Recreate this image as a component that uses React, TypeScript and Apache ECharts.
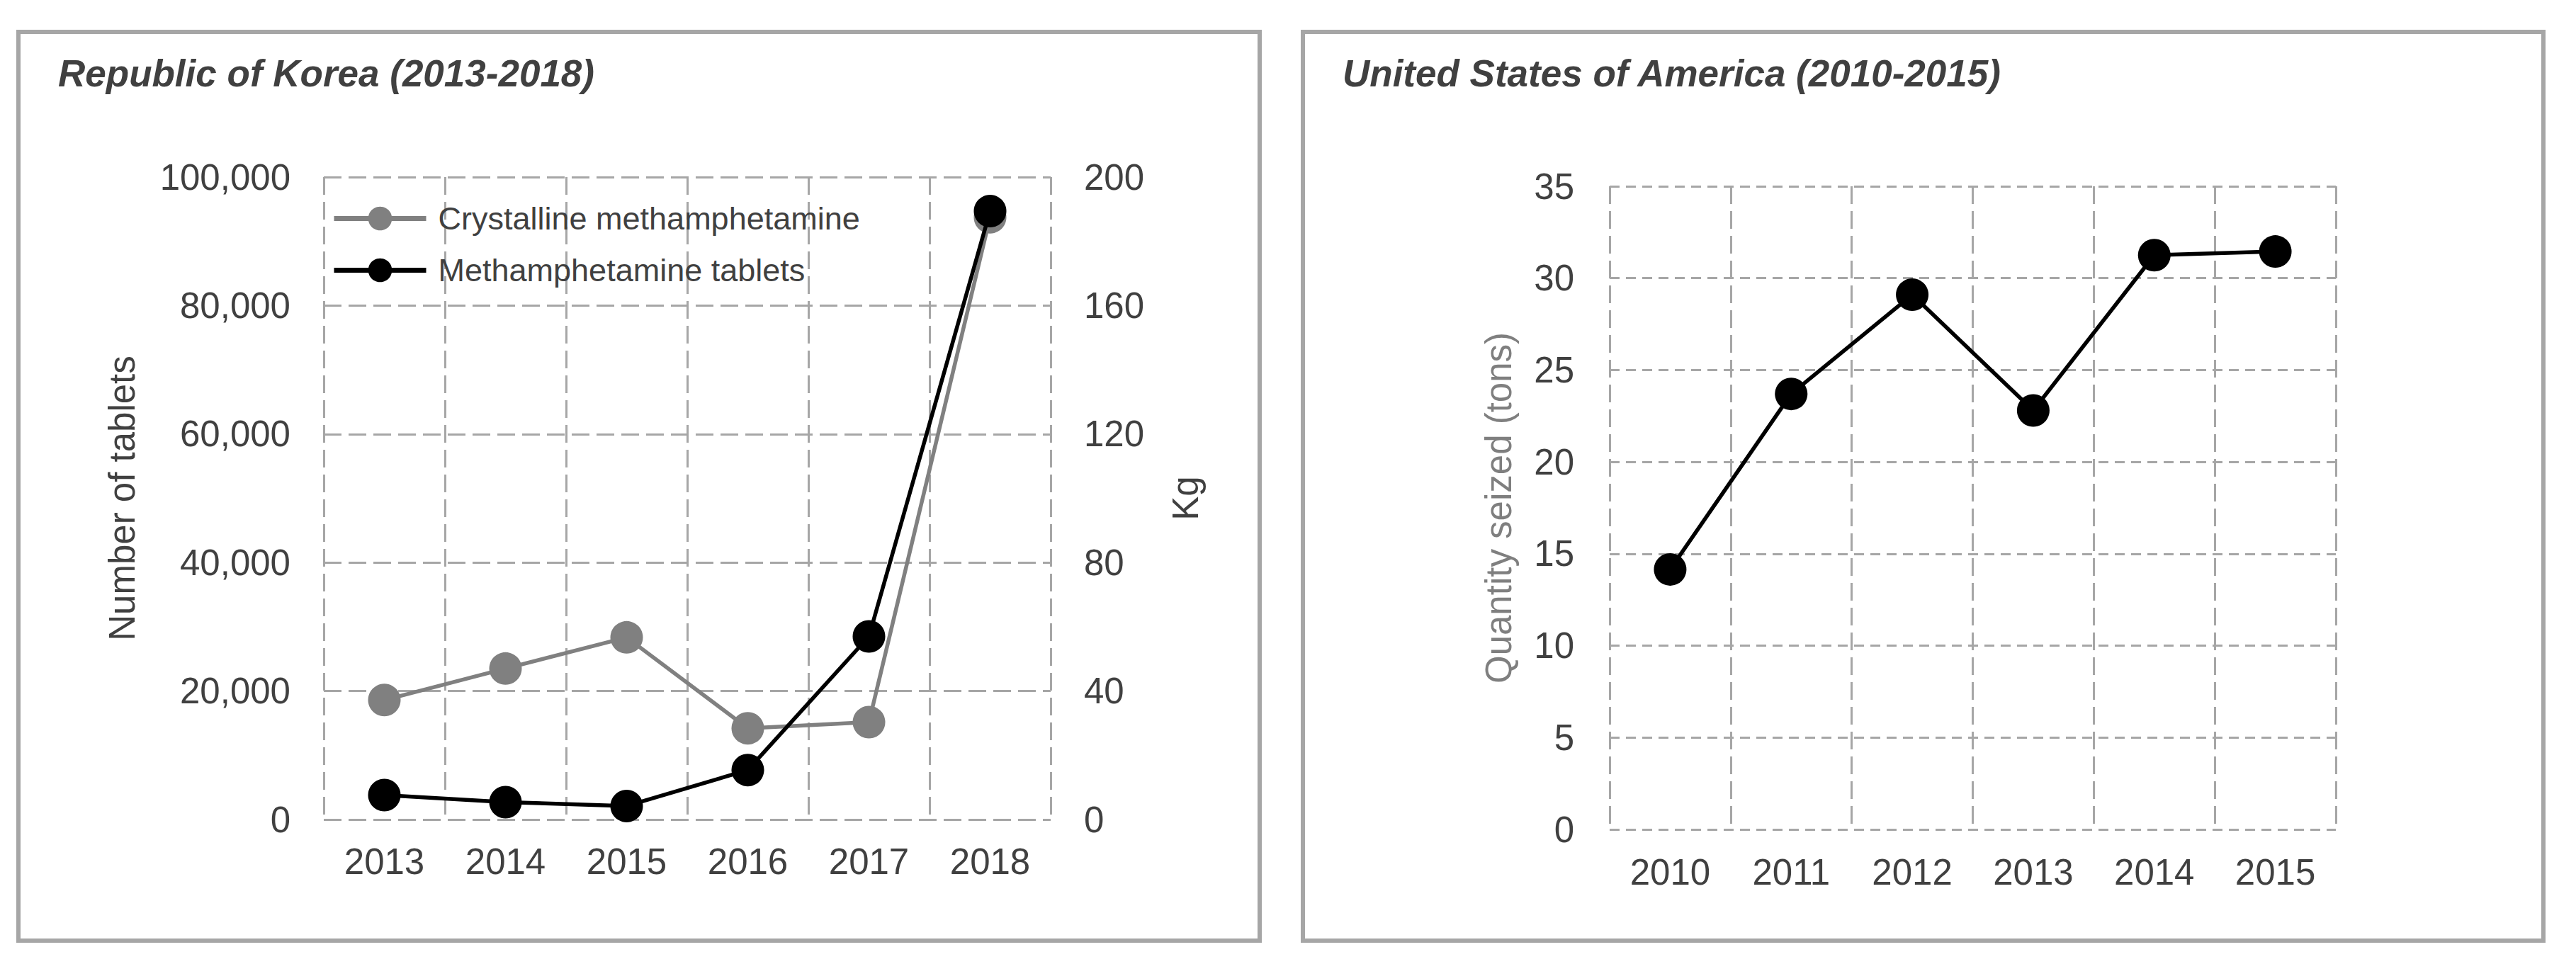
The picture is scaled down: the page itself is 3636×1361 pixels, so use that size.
import React, { useEffect, useRef } from "react";
import * as echarts from "echarts";

// ---- Data ----
const koreaYears = ["2013", "2014", "2015", "2016", "2017", "2018"];
const crystallineKg = [37.2, 47, 56.7, 28.4, 30.3, 187.5];
const tabletsCount = [3800, 2700, 2100, 7700, 28500, 94700];
const koreaTabletTicks = { min: 0, max: 100000, interval: 20000 };
const koreaKgTicks = { min: 0, max: 200, interval: 40 };

const usaYears = ["2010", "2011", "2012", "2013", "2014", "2015"];
const usaTons = [14.15, 23.7, 29.1, 22.8, 31.25, 31.45];
const usaTicks = { min: 0, max: 35, interval: 5 };

const seriesNames = ["Crystalline methamphetamine", "Methamphetamine tablets"];
const titles = ["Republic of Korea (2013-2018)", "United States of America (2010-2015)"];
const axisNames = ["Number of tablets", "Kg", "Quantity seized (tons)"];

const FONT = "Liberation Sans, Arial, sans-serif";
const GRID = "#a6a6a6";
const TXT = "#404040";

export default function App() {
  const ref = useRef<HTMLDivElement>(null);

  useEffect(() => {
    if (!ref.current) return;
    const chart = echarts.init(ref.current, undefined, { renderer: "svg" });

    const dashed = (dash: number[]) => ({
      show: true,
      lineStyle: { color: GRID, width: 3, type: dash },
    });

    const xCat = (grid: number, data: string[], margin: number) => ({
      gridIndex: grid,
      type: "category",
      data,
      boundaryGap: true,
      axisLine: { show: false },
      axisTick: { show: false },
      axisLabel: { margin, fontSize: 51, color: TXT, fontFamily: FONT },
      splitLine: { ...dashed([25, 10]), interval: 0 },
    });

    const option: any = {
      animation: false,
      backgroundColor: "#ffffff",
      textStyle: { fontFamily: FONT },
      grid: [
        { left: 457, top: 250, width: 1026, height: 907 },
        { left: 2272, top: 263, width: 1025, height: 908 },
      ],
      xAxis: [xCat(0, koreaYears, 34), xCat(1, usaYears, 35)],
      yAxis: [
        {
          gridIndex: 0,
          type: "value",
          position: "left",
          ...koreaTabletTicks,
          name: axisNames[0],
          nameLocation: "middle",
          nameGap: 259,
          nameTextStyle: { fontSize: 51, color: TXT, fontFamily: FONT },
          axisLine: { show: false },
          axisTick: { show: false },
          axisLabel: {
            margin: 47,
            fontSize: 51,
            color: TXT,
            fontFamily: FONT,
            formatter: (v: number) => v.toLocaleString("en-US"),
          },
          splitLine: dashed([25, 10]),
        },
        {
          gridIndex: 0,
          type: "value",
          position: "right",
          ...koreaKgTicks,
          name: axisNames[1],
          nameLocation: "middle",
          nameGap: 165,
          nameTextStyle: { fontSize: 51, color: TXT, fontFamily: FONT },
          axisLine: { show: false },
          axisTick: { show: false },
          axisLabel: { margin: 47, fontSize: 51, color: TXT, fontFamily: FONT },
          splitLine: { show: false },
        },
        {
          gridIndex: 1,
          type: "value",
          position: "left",
          ...usaTicks,
          name: axisNames[2],
          nameLocation: "middle",
          nameGap: 131,
          nameTextStyle: { fontSize: 51, color: "#7f7f7f", fontFamily: FONT },
          axisLine: { show: false },
          axisTick: { show: false },
          axisLabel: { margin: 50, fontSize: 51, color: TXT, fontFamily: FONT },
          splitLine: dashed([14, 9]),
        },
      ],
      legend: {
        data: seriesNames,
        orient: "vertical",
        left: 463,
        top: 281,
        itemWidth: 130,
        itemHeight: 42,
        itemGap: 28,
        selectedMode: false,
        lineStyle: { width: 7 },
        textStyle: { fontSize: 45, color: TXT, fontFamily: FONT, padding: [0, 0, 0, 12] },
      },
      series: [
        {
          name: seriesNames[0],
          type: "line",
          xAxisIndex: 0,
          yAxisIndex: 1,
          data: crystallineKg,
          symbol: "circle",
          symbolSize: 46,
          lineStyle: { color: "#808080", width: 5.5 },
          itemStyle: { color: "#808080" },
          z: 2,
        },
        {
          name: seriesNames[1],
          type: "line",
          xAxisIndex: 0,
          yAxisIndex: 0,
          data: tabletsCount,
          symbol: "circle",
          symbolSize: 46,
          lineStyle: { color: "#000000", width: 5.5 },
          itemStyle: { color: "#000000" },
          z: 3,
        },
        {
          name: "United States of America",
          type: "line",
          xAxisIndex: 1,
          yAxisIndex: 2,
          data: usaTons,
          symbol: "circle",
          symbolSize: 46,
          lineStyle: { color: "#000000", width: 5.5 },
          itemStyle: { color: "#000000" },
          z: 3,
        },
      ],
      graphic: [
        {
          type: "rect",
          x: 26,
          y: 45,
          shape: { x: 0, y: 0, width: 1752, height: 1283 },
          style: { fill: "none", stroke: GRID, lineWidth: 6 },
          silent: true,
          z: -1,
        },
        {
          type: "rect",
          x: 1839,
          y: 45,
          shape: { x: 0, y: 0, width: 1751, height: 1283 },
          style: { fill: "none", stroke: GRID, lineWidth: 6 },
          silent: true,
          z: -1,
        },
        {
          type: "text",
          x: 82,
          y: 103,
          style: {
            text: titles[0],
            fontSize: 53,
            fontWeight: "bold",
            fontStyle: "italic",
            fontFamily: FONT,
            fill: TXT,
            verticalAlign: "middle",
          },
        },
        {
          type: "text",
          x: 1895,
          y: 103,
          style: {
            text: titles[1],
            fontSize: 53,
            fontWeight: "bold",
            fontStyle: "italic",
            fontFamily: FONT,
            fill: TXT,
            verticalAlign: "middle",
          },
        },
      ],
    };

    chart.setOption(option);
    return () => chart.dispose();
  }, []);

  return (
    <div
      ref={ref}
      style={{ position: "absolute", left: 0, top: 0, width: 3636, height: 1361, background: "#fff" }}
    />
  );
}
